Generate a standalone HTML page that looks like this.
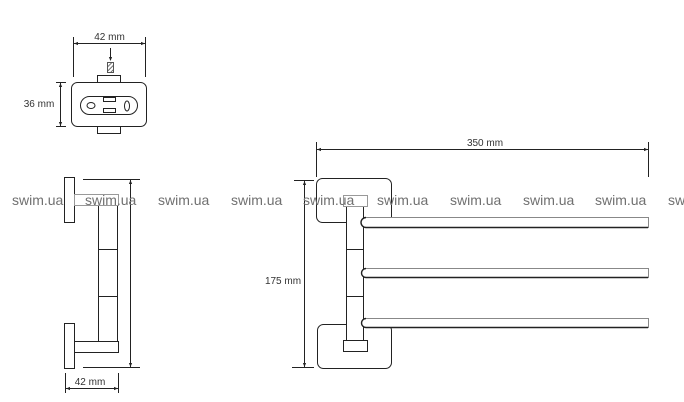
<!DOCTYPE html>
<html><head><meta charset="utf-8"><style>
html,body{margin:0;padding:0;background:#fff;}
svg{display:block;}
</style></head><body>
<svg width="684" height="402" viewBox="0 0 684 402" xmlns="http://www.w3.org/2000/svg">
<defs>
<pattern id="hatch" width="3" height="3" patternUnits="userSpaceOnUse" patternTransform="rotate(45)">
<rect width="3" height="3" fill="#fff"/><line x1="0" y1="0" x2="0" y2="3" stroke="#333" stroke-width="1.4"/>
</pattern>
</defs>
<g fill="none" stroke="#222" stroke-width="1">
<!-- TOP VIEW -->
<line x1="73.5" y1="37" x2="73.5" y2="77"/>
<line x1="145.5" y1="37" x2="145.5" y2="77"/>
<line x1="74" y1="43.5" x2="145" y2="43.5"/>
<line x1="110.5" y1="48" x2="110.5" y2="60"/>
<rect x="107.5" y="62.5" width="6" height="10" fill="url(#hatch)" stroke="#555"/>
<rect x="97.5" y="75.5" width="23" height="7" fill="#fff"/>
<rect x="97.5" y="126.5" width="23" height="7" fill="#fff"/>
<rect x="71.5" y="82.5" width="75" height="44" rx="6" fill="#fff"/>
<rect x="80.5" y="96.5" width="57" height="18" rx="9"/>
<rect x="103.5" y="97.5" width="12" height="4"/>
<rect x="103.5" y="108.5" width="12" height="4"/>
<ellipse cx="91" cy="105.5" rx="4" ry="3"/>
<ellipse cx="127" cy="106" rx="2.5" ry="5"/>
<line x1="60.5" y1="83" x2="60.5" y2="126"/>
<line x1="56" y1="82.5" x2="66" y2="82.5"/>
<line x1="56" y1="126.5" x2="66" y2="126.5"/>

<!-- SIDE VIEW -->
<line x1="83" y1="179.5" x2="140" y2="179.5"/>
<line x1="83" y1="367.5" x2="140" y2="367.5"/>
<line x1="130.5" y1="180" x2="130.5" y2="367"/>
<rect x="64.5" y="177.5" width="10" height="45" fill="#fff"/>
<rect x="64.5" y="323.5" width="10" height="45" fill="#fff"/>
<rect x="98.5" y="205.5" width="19" height="136" fill="#fff"/>
<line x1="98" y1="249.5" x2="117" y2="249.5"/>
<line x1="98" y1="296.5" x2="117" y2="296.5"/>
<rect x="74.5" y="341.5" width="44" height="11" fill="#fff"/>
<line x1="65.5" y1="373" x2="65.5" y2="393"/>
<line x1="118.5" y1="373" x2="118.5" y2="393"/>
<line x1="66" y1="388.5" x2="118" y2="388.5"/>

<!-- MAIN VIEW -->
<line x1="316.5" y1="142" x2="316.5" y2="177"/>
<line x1="648.5" y1="142" x2="648.5" y2="177"/>
<line x1="317" y1="149.5" x2="648" y2="149.5"/>
<line x1="294" y1="180.5" x2="314" y2="180.5"/>
<line x1="292" y1="367.5" x2="314" y2="367.5"/>
<line x1="304.5" y1="181" x2="304.5" y2="367"/>
<rect x="316.5" y="178.5" width="75" height="44" rx="6" fill="#fff"/>
<rect x="317.5" y="324.5" width="74" height="44" rx="6" fill="#fff"/>
<rect x="346.5" y="206.5" width="17" height="134" fill="#fff"/>
<line x1="346" y1="249.5" x2="363" y2="249.5"/>
<line x1="346" y1="296.5" x2="363" y2="296.5"/>
<rect x="343.5" y="340.5" width="24" height="11" fill="#fff"/>
</g>

<!-- towel bars -->
<g>
<path d="M366 217.5 H648.5 V227.5 H366 A5 5 0 0 1 366 217.5 Z" fill="#fff" stroke="#888" stroke-width="1"/>
<path d="M366 227.5 H648 M366 217.5 A5 5 0 0 0 366 227.5" fill="none" stroke="#222" stroke-width="1.4"/>
<path d="M366 268.5 H648.5 V277.5 H366 A4.5 4.5 0 0 1 366 268.5 Z" fill="#fff" stroke="#888" stroke-width="1"/>
<path d="M366 277.5 H648 M366 268.5 A4.5 4.5 0 0 0 366 277.5" fill="none" stroke="#222" stroke-width="1.4"/>
<path d="M366 318.5 H648.5 V327.5 H366 A4.5 4.5 0 0 1 366 318.5 Z" fill="#fff" stroke="#888" stroke-width="1"/>
<path d="M366 327.5 H648 M366 318.5 A4.5 4.5 0 0 0 366 327.5" fill="none" stroke="#222" stroke-width="1.4"/>
</g>

<!-- arrowheads -->
<g fill="#222">
<path d="M74 43.5 l4 -1.6 v3.2z"/><path d="M145 43.5 l-4 -1.6 v3.2z"/>
<path d="M110.5 61 l-1.6 -4 h3.2z"/>
<path d="M60.5 83 l-1.6 4 h3.2z"/><path d="M60.5 126 l-1.6 -4 h3.2z"/>
<path d="M130.5 180 l-1.6 4 h3.2z"/><path d="M130.5 367 l-1.6 -4 h3.2z"/>
<path d="M66 388.5 l4 -1.6 v3.2z"/><path d="M118 388.5 l-4 -1.6 v3.2z"/>
<path d="M317 149.5 l4 -1.6 v3.2z"/><path d="M648 149.5 l-4 -1.6 v3.2z"/>
<path d="M304.5 181 l-1.6 4 h3.2z"/><path d="M304.5 367 l-1.6 -4 h3.2z"/>
</g>

<!-- gray boxes -->
<rect x="74.5" y="194.5" width="44" height="11" fill="none" stroke="#999" stroke-width="1"/>
<rect x="343.5" y="195.5" width="24" height="11" fill="none" stroke="#999" stroke-width="1"/>

<!-- labels -->
<g font-family="Liberation Sans, sans-serif" font-size="10" fill="#333">
<text x="109.5" y="40" text-anchor="middle">42 mm</text>
<text x="39" y="107" text-anchor="middle">36 mm</text>
<text x="90" y="385" text-anchor="middle">42 mm</text>
<text x="485" y="146" text-anchor="middle">350 mm</text>
<text x="283" y="284" text-anchor="middle">175 mm</text>
</g>

<!-- watermarks -->
<g font-family="Liberation Sans, sans-serif" font-size="14" fill="#707070">
<text x="12" y="205">swim.ua</text>
<text x="85" y="205">swim.ua</text>
<text x="158" y="205">swim.ua</text>
<text x="231" y="205">swim.ua</text>
<text x="303" y="205">swim.ua</text>
<text x="377" y="205">swim.ua</text>
<text x="450" y="205">swim.ua</text>
<text x="523" y="205">swim.ua</text>
<text x="595" y="205">swim.ua</text>
<text x="668" y="205">swim.ua</text>
</g>
</svg>
</body></html>
